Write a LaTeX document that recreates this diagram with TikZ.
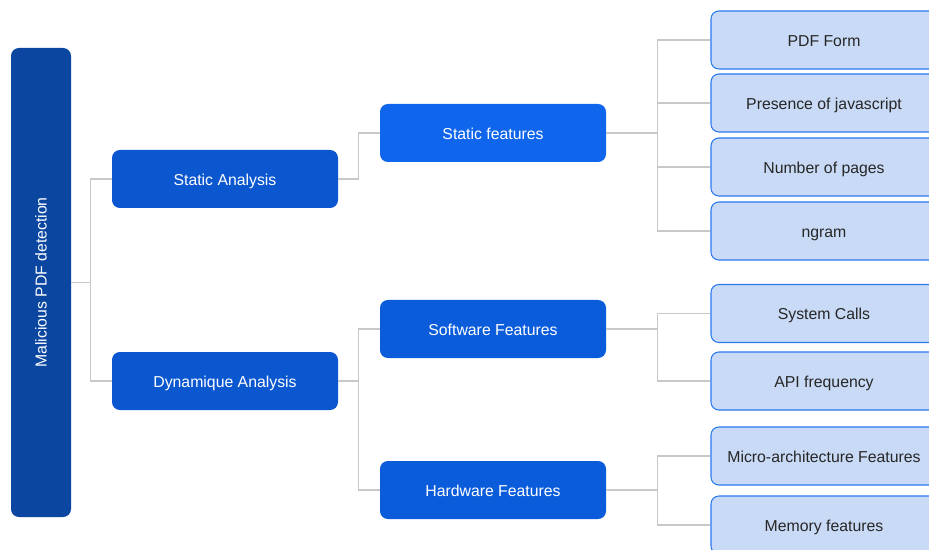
\documentclass[tikz,border=0pt]{standalone}
\usepackage{fontspec}
\setmainfont{Liberation Sans}
\usepackage{tikz}

\definecolor{rootblue}{HTML}{0B47A1}
\definecolor{midblue}{HTML}{0B57D0}
\definecolor{featblue}{HTML}{0F66EC}
\definecolor{subblue}{HTML}{0B5CDA}
\definecolor{leaffill}{HTML}{C9DAF6}
\definecolor{leafline}{HTML}{2A78F0}
\definecolor{linkgray}{HTML}{C8C8C8}

\tikzset{
	box/.style={rectangle, rounded corners=4.5pt, minimum width=226*0.02cm, minimum height=58*0.02cm, align=center, font=\fontsize{9}{11}\selectfont, inner sep=0pt},
	flat/.style={box, text height=7pt, text depth=0pt},
	rootbox/.style={box, fill=rootblue, text=white, minimum width=60*0.02cm, minimum height=469*0.02cm},
	analysis/.style={flat, fill=midblue, text=white},
	statfeat/.style={flat, fill=featblue, text=white},
	dynfeat/.style={flat, fill=subblue, text=white},
	leaf/.style={flat, fill=leaffill, draw=leafline, line width=0.6pt, text=black!85},
	link/.style={draw=linkgray, line width=0.6pt}
}

\begin{document}
\begin{tikzpicture}[x=0.02cm, y=-0.02cm]
	\clip (0,0) rectangle (929,550);
	\fill[white] (0,0) rectangle (929,550);

	% root
	\node[rootbox] (root) at (41,282.5) {\rotatebox{90}{Malicious PDF detection}};

	% analyses
	\node[analysis] (sa) at (225,179) {Static Analysis};
	\node[analysis] (da) at (225,381) {Dynamique Analysis};

	% feature groups
	\node[statfeat] (sf) at (493,133) {Static features};
	\node[dynfeat] (swf) at (493,329) {Software Features};
	\node[dynfeat] (hwf) at (493,490) {Hardware Features};

	% leaves
	\node[leaf] (form) at (824,40) {PDF Form};
	\node[leaf] (js) at (824,103) {Presence of javascript};
	\node[leaf] (pages) at (824,167) {Number of pages};
	\node[leaf] (ngram) at (824,231) {ngram};
	\node[leaf] (calls) at (824,313.5) {System Calls};
	\node[leaf] (api) at (824,381) {API frequency};
	\node[leaf] (micro) at (824,456) {Micro-architecture Features};
	\node[leaf] (mem) at (824,525) {Memory features};

	% connectors
	\foreach \n in {sa,da}
		\draw[link] (\n.west) -- ++(-21,0) |- (root.east);
	\foreach \n in {sf}
		\draw[link] (\n.west) -- ++(-21,0) |- (sa.east);
	\foreach \n in {swf,hwf}
		\draw[link] (\n.west) -- ++(-21,0) |- (da.east);
	\foreach \n in {form,js,pages,ngram}
		\draw[link] (\n.west) -- ++(-53,0) |- (sf.east);
	\foreach \n in {calls,api}
		\draw[link] (\n.west) -- ++(-53,0) |- (swf.east);
	\foreach \n in {micro,mem}
		\draw[link] (\n.west) -- ++(-53,0) |- (hwf.east);
\end{tikzpicture}
\end{document}
